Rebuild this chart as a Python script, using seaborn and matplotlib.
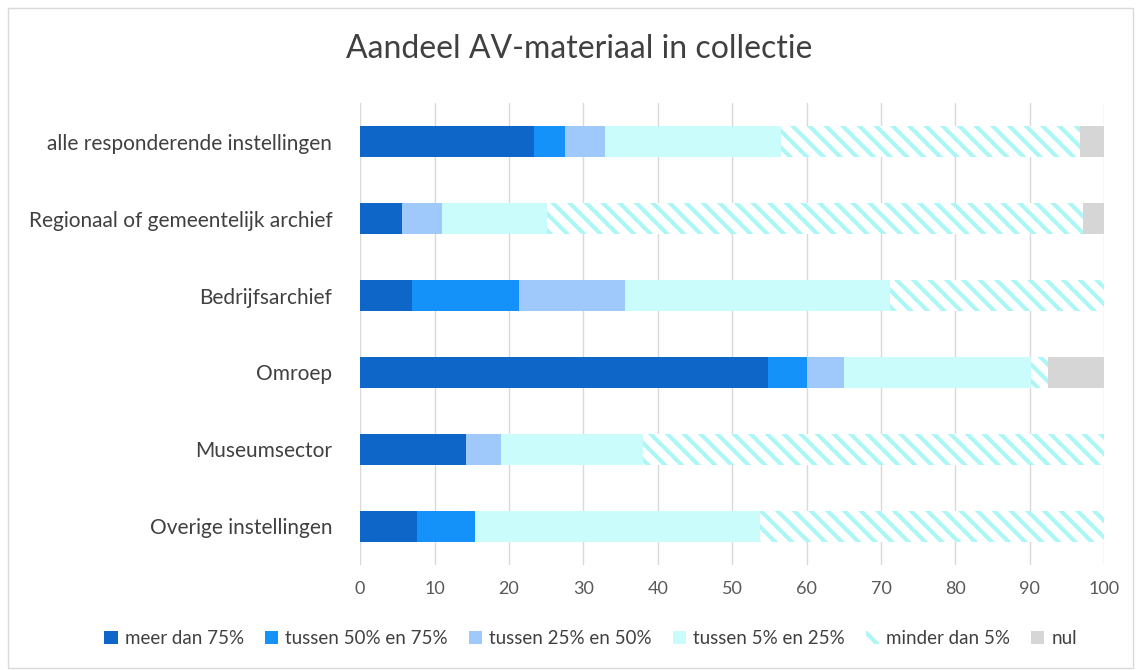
import numpy as np
import pandas as pd
import matplotlib
matplotlib.use('Agg')
from matplotlib import pyplot as plt
from matplotlib.patches import Patch, Rectangle
import seaborn as sns

#======== Data ========#
categories = ['alle responderende instellingen', 'Regionaal of gemeentelijk archief',
              'Bedrijfsarchief', 'Omroep', 'Museumsector', 'Overige instellingen']
series = ['meer dan 75%', 'tussen 50% en 75%', 'tussen 25% en 50%',
          'tussen 5% en 25%', 'minder dan 5%', 'nul']

meer_dan_75 = [23.4, 5.6, 7.0, 54.8, 14.2, 7.6]
tussen_50_75 = [4.2, 0.0, 14.4, 5.3, 0.0, 7.8]
tussen_25_50 = [5.3, 5.4, 14.2, 4.9, 4.8, 0.0]
tussen_5_25 = [23.6, 14.1, 35.6, 25.1, 19.0, 38.4]
minder_dan_5 = [40.3, 72.1, 28.8, 2.4, 62.0, 46.2]
nul = [3.2, 2.8, 0.0, 7.5, 0.0, 0.0]

colors = ['#0f66c9', '#1591fa', '#9ec9fa', '#cbfcfc', '#adf6f6', '#d6d6d6']

df = pd.DataFrame({'categorie': categories,
                   series[0]: meer_dan_75, series[1]: tussen_50_75,
                   series[2]: tussen_25_50, series[3]: tussen_5_25,
                   series[4]: minder_dan_5, series[5]: nul})
cum = df[series].cumsum(axis=1)
cum['categorie'] = df['categorie']

#======== Plot ========#
sns.set_style('white')
plt.rcParams['font.family'] = ['Lato', 'DejaVu Sans']
plt.rcParams['hatch.linewidth'] = 3.0
plt.rcParams['hatch.color'] = colors[4]

fig = plt.figure(figsize=(11.36, 6.70), dpi=100)
ax = fig.add_axes([0.317, 0.157, 0.655, 0.689])

# stacked bars: draw cumulative totals from the right-most segment backwards
for i in range(len(series) - 1, -1, -1):
    s = series[i]
    sns.barplot(data=cum, x=s, y='categorie', orient='h', color=colors[i],
                width=0.4, ax=ax, linewidth=0, saturation=1)
    bars = ax.containers[-1]
    for b in bars:
        b.set_linewidth(0)
        if s == 'minder dan 5%':
            b.set_facecolor('white')
            b.set_edgecolor(colors[4])
            b.set_hatch('\\\\')

ax.set_xlim(0, 100)
ax.set_ylim(5.5, -0.5)
ax.set_xticks(range(0, 101, 10))
ax.set_xlabel('')
ax.set_ylabel('')
ax.grid(axis='x', color='#d9d9d9', linewidth=1)
ax.set_axisbelow(True)
for sp in ax.spines.values():
    sp.set_visible(False)
ax.tick_params(axis='x', colors='#595959', labelsize=13, length=0, pad=12)
ax.tick_params(axis='y', colors='#404040', labelsize=15, length=0, pad=20)

fig.suptitle('Aandeel AV-materiaal in collectie', x=0.51, y=0.95,
             fontsize=23, color='#404040')

handles = []
for i, s in enumerate(series):
    if s == 'minder dan 5%':
        handles.append(Patch(facecolor='white', edgecolor=colors[4], hatch='\\\\',
                             linewidth=0, label=s))
    else:
        handles.append(Patch(facecolor=colors[i], linewidth=0, label=s))
leg = fig.legend(handles=handles, loc='center', bbox_to_anchor=(0.52, 0.047), ncol=6,
                 frameon=False, fontsize=13.5, handlelength=0.7, handleheight=0.7,
                 handletextpad=0.4, columnspacing=1.1)
for t in leg.get_texts():
    t.set_color('#404040')

fig.patches.append(Rectangle((0.007, 0.003), 0.99, 0.985, transform=fig.transFigure,
                             fill=False, edgecolor='#d9d9d9', linewidth=1))

plt.savefig('out.png', dpi=100)
